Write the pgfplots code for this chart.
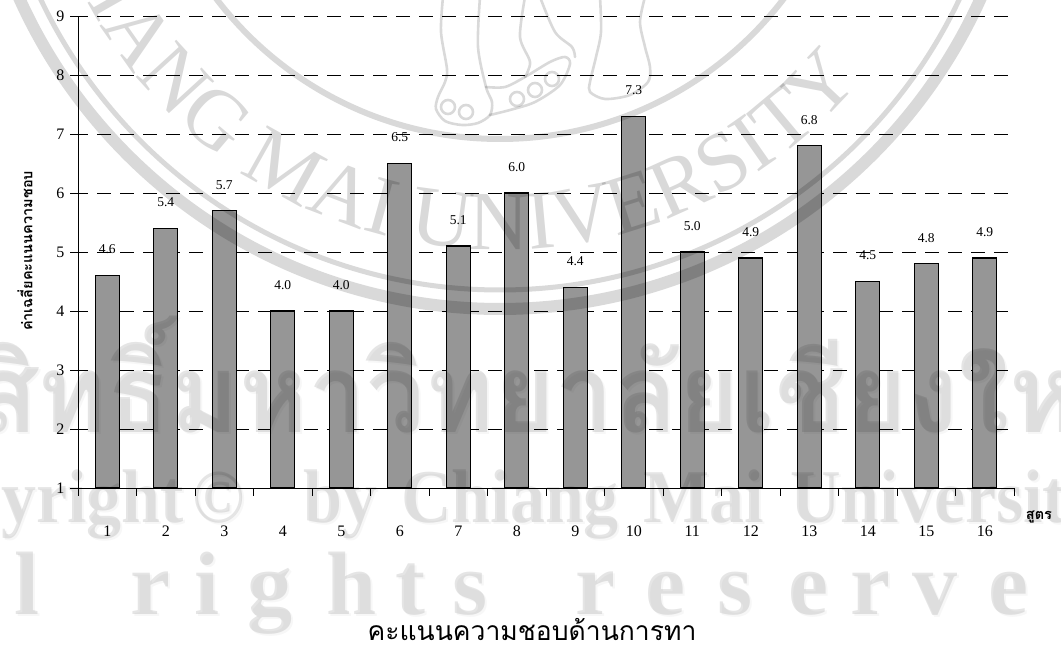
\documentclass[border=0pt]{standalone}
\usepackage{fontspec}
\setmainfont{Liberation Serif}
\newfontfamily\thaifont[Script=Thai]{Loma}
\usepackage{pgfplots}
\pgfplotsset{compat=1.18}
\usetikzlibrary{decorations.text}
\pgfplotstableread{
f  score
1  4.6
2  5.4
3  5.7
4  4.0
5  4.0
6  6.5
7  5.1
8  6.0
9  4.4
10 7.3
11 5.0
12 4.9
13 6.8
14 4.5
15 4.8
16 4.9
}\scores
\definecolor{barfill}{HTML}{969696}
\newcommand{\fs}[1]{\fontsize{#1pt}{#1pt}\selectfont}
\begin{document}
\begin{tikzpicture}[x=1pt,y=1pt]
\useasboundingbox (0,0) rectangle (1061,647);
\clip (0,0) rectangle (1061,647);
\begin{axis}[
  at={(78pt,159pt)}, anchor=south west,
  scale only axis, width=936pt, height=472pt,
  xmin=0.5, xmax=16.5, ymin=1, ymax=9,
  axis lines*=left,
  axis line style={black,line width=0.9pt},
  ytick={1,...,9},
  xtick={0.5,1.5,...,16.5},
  xticklabels={1,2,3,4,5,6,7,8,9,10,11,12,13,14,15,16},
  x tick label as interval,
  tick align=outside,
  major tick length=8pt,
  tick style={black,line width=0.8pt},
  x tick label style={yshift=-26pt},
  y tick label style={xshift=-2pt},
  ticklabel style={font=\fs{16}},
  /pgf/number format/assume math mode=true,
  ymajorgrids,
  major grid style={black,line width=0.8pt,dash pattern=on 14pt off 9pt,dash phase=4pt},
  ybar, bar width=24pt, bar shift=0pt,
  nodes near coords,
  point meta=y,
  every node near coord/.append style={font=\fs{13.5},anchor=center,yshift=26pt,
    /pgf/number format/fixed,/pgf/number format/fixed zerofill,/pgf/number format/precision=1,
    /pgf/number format/assume math mode=true},
  clip=true,
]
\addplot[draw=black,line width=1.4pt,fill=barfill] table[x=f,y=score] {\scores};
\end{axis}

% axis captions
\node[rotate=90,font={\thaifont\bfseries\fs{14.5}}] at (25,396) {ค่าเฉลี่ยคะแนนความชอบ};
\node[font={\thaifont\bfseries\fs{14.5}}] at (1039,130) {สูตร};
\node[font={\thaifont\fs{26.5}}] at (532,17) {คะแนนความชอบด้านการทา};

% university seal and copyright notice laid across the page
\begin{scope}[opacity=0.15,black]
  \draw[line width=12pt] (500,865) circle[radius=527];
  \draw[line width=5pt]  (500,865) circle[radius=508];
  \draw[line width=6pt]  (500,865) circle[radius=357];
  \path[decorate,decoration={text along path,
      text={|\fs{84}|CHIANG MAI UNIVERSITY},
      text align=center,reverse path=false}]
    (500,865) ++(167:468) arc[start angle=167,end angle=347,radius=468];
  % elephant feet
  \begin{scope}[line width=2.6pt,line cap=round]
    \draw plot[smooth] coordinates {(443,650) (441,615) (447,578) (445,565) (438,550) (436,538) (445,526) (462,522) (478,524) (490,532) (492,545) (486,560) (478,600) (480,650)};
    \draw plot[smooth] coordinates {(490,532) (510,537) (535,545) (560,562) (570,583) (565,590) (550,585) (525,570) (505,560) (486,560)};
    \draw plot[smooth] coordinates {(600,650) (601,615) (596,590) (590,565) (590,555) (605,548) (630,552) (648,565) (650,580) (645,600) (640,625) (645,650)};
    \draw plot[smooth] coordinates {(525,650) (520,610) (530,585) (525,570)};
    \draw plot[smooth] coordinates {(540,650) (555,615) (572,600) (575,590)};
    \draw (448,540) circle[radius=7];
    \draw (466,535) circle[radius=7];
    \draw (517,548) circle[radius=7];
    \draw (535,557) circle[radius=7];
    \draw (552,568) circle[radius=7];
  \end{scope}
\end{scope}
% notice text with its faint offset shadow
\foreach \dx/\dy/\op in {2/-2/0.03,0/0/0.1}{
\begin{scope}[shift={(\dx,\dy)},opacity=\op,black]
  \node[font={\thaifont\bfseries\fs{110}},anchor=base,xscale=0.95] at (493,214) {ลิขสิทธิ์มหาวิทยาลัยเชียงใหม่};
  \begin{scope}[every node/.style={font={\bfseries\fs{76}},xscale=0.92}]
    \node[anchor=base east] at (187,124) {Copyright};
    \node[anchor=base] at (219,124) {\textcopyright};
    \node[anchor=base west] at (300,124) {by};
    \node[anchor=base west] at (398,124) {Chiang};
    \node[anchor=base west] at (640,124) {Mai};
    \node[anchor=base west] at (787,124) {University};
  \end{scope}
  \foreach \c/\px in {l/27,r/150,i/207,g/270,h/352,t/410,s/470,r/595,e/665,s/735,e/808,r/870,v/935,e/1008}
    \node[font={\bfseries\fs{90}},anchor=base] at (\px,32) {\c};
\end{scope}}
\end{tikzpicture}
\end{document}
